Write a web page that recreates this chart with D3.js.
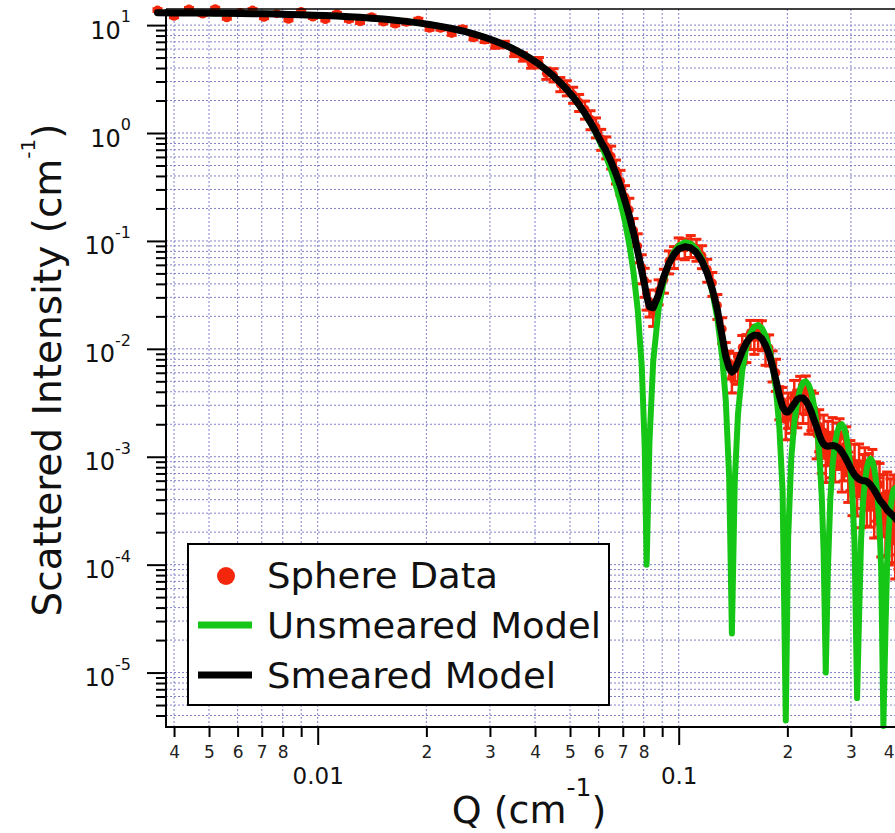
<!DOCTYPE html>
<html><head><meta charset="utf-8">
<script src="https://cdn.jsdelivr.net/npm/d3@7"></script>
<style>body{margin:0;background:#fff}svg{display:block;font-family:"DejaVu Sans",sans-serif}</style>
</head><body><svg id="chart" width="895" height="833"></svg>
<script>
// ---------------- data ----------------
const qValues = [0.0036,0.0040,0.0044,0.0048,0.0052,0.0056,0.0061,0.0066,0.0071,0.0077,0.0083,0.0090,0.0097,0.0105,0.0113,0.0122,0.0131,0.0141,0.0152,0.0164,0.0176,0.0190,0.0204,0.0219,0.0235,0.0252,0.0270,0.0290,0.0310,0.0330,0.0350,0.0370,0.0390,0.0410,0.0430,0.0450,0.0470,0.0490,0.0510,0.0530,0.0550,0.0570,0.0590,0.0610,0.0630,0.0650,0.0670,0.0690,0.0710,0.0730,0.0750,0.0770,0.0790,0.0805,0.0815,0.0830,0.0850,0.0880,0.0910,0.0940,0.0970,0.1000,0.1040,0.1080,0.1120,0.1160,0.1200,0.1240,0.1280,0.1320,0.1350,0.1380,0.1404,0.1430,0.1460,0.1500,0.1540,0.1580,0.1620,0.1660,0.1700,0.1740,0.1780,0.1820,0.1860,0.1900,0.1940,0.1980,0.2010,0.2050,0.2090,0.2130,0.2170,0.2210,0.2250,0.2290,0.2330,0.2370,0.2410,0.2450,0.2490,0.2520,0.2555,0.2590,0.2630,0.2670,0.2710,0.2750,0.2790,0.2830,0.2870,0.2910,0.2950,0.2990,0.3030,0.3070,0.3120,0.3160,0.3200,0.3240,0.3280,0.3320,0.3360,0.3400,0.3440,0.3480,0.3520,0.3560,0.3600,0.3640,0.3690,0.3740,0.3780,0.3820,0.3860,0.3900,0.3940,0.3980,0.4020,0.4060];

const unsmearedModel = [13.00,12.97,12.95,12.92,12.89,12.85,12.81,12.76,12.71,12.64,12.56,12.47,12.37,12.25,12.12,11.97,11.80,11.60,11.37,11.11,10.83,10.49,10.14,9.74,9.30,8.82,8.30,7.72,7.13,6.55,5.97,5.41,4.87,4.34,3.84,3.37,2.93,2.52,2.15,1.805,1.50,1.226,0.986,0.778,0.600,0.451,0.327,0.228,0.151,0.0923,0.0505,0.0230,0.00691,0.00127,0.00010,0.00138,0.00768,0.0237,0.0434,0.0626,0.0788,0.0903,0.0972,0.0944,0.0839,0.0684,0.0507,0.0335,0.0190,0.00842,0.00336,0.000638,0.000023,0.000588,0.00251,0.00630,0.0104,0.0139,0.0160,0.0166,0.0156,0.0133,0.0103,0.00712,0.00417,0.00189,0.000485,0.0000036,0.000177,0.000951,0.00208,0.00327,0.00426,0.00487,0.00500,0.00466,0.00395,0.00300,0.00200,0.00111,0.000440,0.000133,0.000010,0.0000900,0.000404,0.000850,0.00132,0.00171,0.00195,0.00200,0.00187,0.00158,0.00120,0.000789,0.000425,0.000158,0.0000058,0.0000324,0.000168,0.000371,0.000593,0.000787,0.000916,0.000958,0.000909,0.000782,0.000603,0.000405,0.000224,0.0000870,0.0000032,0.0000256,0.000104,0.000215,0.000332,0.000433,0.000496,0.000513,0.000481,0.000409];

const smearedModel = [13.00,12.97,12.95,12.92,12.89,12.85,12.81,12.76,12.71,12.64,12.56,12.47,12.37,12.25,12.12,11.97,11.80,11.60,11.37,11.11,10.83,10.49,10.14,9.74,9.30,8.82,8.30,7.72,7.13,6.55,5.97,5.41,4.87,4.34,3.84,3.36,2.93,2.53,2.16,1.82,1.52,1.25,1.02,0.82,0.68,0.54,0.42,0.32,0.235,0.170,0.118,0.080,0.053,0.039,0.031,0.0245,0.0240,0.0320,0.0470,0.0620,0.0750,0.0840,0.0885,0.0860,0.0780,0.0650,0.0500,0.0355,0.0230,0.0130,0.0085,0.0066,0.0061,0.0064,0.0075,0.0095,0.0114,0.0128,0.0134,0.0133,0.0124,0.0108,0.0089,0.0069,0.0051,0.0037,0.0029,0.0026,0.0026,0.0028,0.0031,0.0034,0.0035,0.0035,0.0033,0.0030,0.0026,0.0022,0.0019,0.0016,0.00140,0.00131,0.00126,0.00125,0.00126,0.00127,0.00126,0.00123,0.00118,0.00111,0.00103,0.00095,0.00087,0.00079,0.00073,0.00068,0.00064,0.00062,0.00061,0.00060,0.00060,0.00059,0.00057,0.00055,0.00052,0.00049,0.00046,0.00043,0.00040,0.00038,0.00036,0.00034,0.00032,0.00031,0.00030,0.00029,0.00028,0.00027,0.00026,0.00025];

const sphereData = [13.78,12.06,14.12,12.66,14.18,11.69,13.07,13.78,11.82,12.77,11.30,13.34,11.88,11.27,12.73,11.25,10.74,11.95,10.69,10.22,10.61,11.12,9.33,9.35,8.37,9.26,7.64,7.26,6.49,6.62,5.55,5.09,4.43,4.51,3.57,3.46,2.84,2.63,2.27,1.93,1.66,1.34,1.14,0.886,0.748,0.610,0.449,0.358,0.256,0.194,0.125,0.0896,0.0572,0.0429,0.0326,0.0274,0.0221,0.0346,0.0437,0.0651,0.0720,0.0874,0.0858,0.0912,0.0842,0.0728,0.0545,0.0408,0.0253,0.0153,0.00893,0.00739,0.00549,0.00704,0.00660,0.0103,0.0105,0.0141,0.0127,0.0141,0.0139,0.0102,0.0102,0.00725,0.00602,0.00333,0.00325,0.00221,0.00286,0.00258,0.00372,0.00299,0.00403,0.00333,0.00403,0.00270,0.00291,0.00275,0.00162,0.00192,0.00123,0.00170,0.00103,0.00148,0.00116,0.00159,0.00108,0.00141,0.00153,0.000888,0.00115,0.00128,0.000740,0.000948,0.000569,0.000870,0.000576,0.000868,0.000458,0.000690,0.000792,0.000484,0.000695,0.000484,0.000754,0.000392,0.000575,0.000409,0.000552,0.000274,0.000432,0.000289,0.000454,0.000242,0.000390,0.000261,0.000420,0.000189,0.000325,0.000238];

const dataRelError = [0.03,0.03,0.03,0.03,0.03,0.03,0.03,0.03,0.03,0.03,0.03,0.03,0.03,0.03,0.03,0.035,0.035,0.035,0.035,0.035,0.04,0.04,0.04,0.04,0.04,0.045,0.045,0.05,0.06,0.07,0.08,0.09,0.10,0.11,0.12,
0.14,0.15,0.16,0.17,0.18,0.19,0.20,0.21,0.22,0.23,0.24,0.25,0.26,0.27,0.28,0.29,0.30,0.30,0.30,0.30,
0.28,0.27,0.26,0.25,0.24,0.23,0.22,0.22,0.23,0.23,0.24,0.24,0.25,0.26,0.27,0.28,0.29,0.29,0.29,0.29,
0.29,0.29,0.30,0.30,0.30,0.31,0.31,0.32,0.32,0.33,0.34,0.35,0.35,0.36,0.36,0.37,0.38,0.38,0.39,0.39,0.40,0.40,0.41,0.41,0.42,
0.43,0.43,0.44,0.44,0.45,0.45,0.46,0.46,0.47,0.47,0.48,0.48,0.49,0.49,0.50,0.50,0.51,0.51,0.52,0.52,0.53,0.53,0.54,0.54,0.55,0.55,0.56,0.56,0.57,0.57,0.58,0.58,0.59,0.59,0.60,0.60,0.61,0.61,0.62,0.62];

const xMinorTicks = [0.004,0.005,0.006,0.007,0.008,0.009,0.02,0.03,0.04,0.05,0.06,0.07,0.08,0.09,0.2,0.3,0.4];
const xMinorLabels = ["4","5","6","7","8","","2","3","4","5","6","7","8","","2","3","4"];
const xMajorTicks = [0.01,0.1];
const xMajorLabels = ["0.01","0.1"];
const yMajorTicks = [10,1,0.1,0.01,0.001,0.0001,0.00001];
const yMajorExponents = ["1","0","-1","-2","-3","-4","-5"];
const legendLabels = ["Sphere Data","Unsmeared Model","Smeared Model"];

// ---------------- drawing ----------------
(function () {
const W = 895, H = 833;
const pLeft = 166, pBottom = 727, pTop = 9;
const x = d3.scaleLog().domain([0.0038, 0.45]).range([166, 914.5]);
const y = d3.scaleLog().domain([3.13e-6, 14.1]).range([727, 9]);
const svg = d3.select("#chart");
const RED = "#f4260c", GREEN = "#16c616", GRID = "#8080cc";

svg.append("rect").attr("width", W).attr("height", H).attr("fill", "#fff");

// grid
const gGrid = svg.append("g").attr("stroke", GRID).attr("stroke-width", 1).attr("stroke-dasharray", "2,2");
gGrid.selectAll("line.vx").data(x.ticks().filter(v => x(v) > pLeft + 1 && x(v) < W))
  .join("line").attr("x1", d => x(d)).attr("x2", d => x(d)).attr("y1", pTop).attr("y2", pBottom);
gGrid.selectAll("line.hy").data(y.ticks().filter(v => y(v) > pTop + 1 && y(v) < pBottom - 1))
  .join("line").attr("y1", d => y(d)).attr("y2", d => y(d)).attr("x1", pLeft).attr("x2", W);

// data with error bars
const pts = qValues.map((q, i) => ({q, v: sphereData[i], e: dataRelError[i]}));
const gData = svg.append("g");
gData.selectAll("line.eb").data(pts).join("line")
  .attr("x1", d => x(d.q)).attr("x2", d => x(d.q))
  .attr("y1", d => y(d.v * (1 - d.e))).attr("y2", d => y(d.v * (1 + d.e)))
  .attr("stroke", RED).attr("stroke-width", 2.5);
gData.selectAll("line.capU").data(pts).join("line")
  .attr("x1", d => x(d.q) - 5).attr("x2", d => x(d.q) + 5)
  .attr("y1", d => y(d.v * (1 + d.e))).attr("y2", d => y(d.v * (1 + d.e)))
  .attr("stroke", RED).attr("stroke-width", 3);
gData.selectAll("line.capL").data(pts).join("line")
  .attr("x1", d => x(d.q) - 5).attr("x2", d => x(d.q) + 5)
  .attr("y1", d => y(d.v * (1 - d.e))).attr("y2", d => y(d.v * (1 - d.e)))
  .attr("stroke", RED).attr("stroke-width", 3);
gData.selectAll("circle").data(pts).join("circle")
  .attr("cx", d => x(d.q)).attr("cy", d => y(d.v)).attr("r", 4.5).attr("fill", RED);

// model lines
const line = d3.line().x(d => x(d[0])).y(d => y(d[1]));
svg.append("path").datum(qValues.map((q, i) => [q, unsmearedModel[i]]))
  .attr("d", line).attr("fill", "none").attr("stroke", GREEN).attr("stroke-width", 6)
  .attr("stroke-linejoin", "round").attr("stroke-linecap", "round");
svg.append("path").datum(qValues.map((q, i) => [q, smearedModel[i]]))
  .attr("d", line).attr("fill", "none").attr("stroke", "#000").attr("stroke-width", 7)
  .attr("stroke-linejoin", "round").attr("stroke-linecap", "round");

// axes
function styleAxis(g) {
  g.select(".domain").remove();
  g.selectAll(".tick line").attr("stroke", "#000").attr("stroke-width", 2);
  g.selectAll(".tick text").attr("fill", "#222").attr("font-family", "DejaVu Sans");
}
svg.append("g").attr("transform", `translate(0,${pBottom})`)
  .call(d3.axisBottom(x).tickValues(xMinorTicks).tickSize(10).tickPadding(9)
    .tickFormat((d, i) => xMinorLabels[i]))
  .call(styleAxis)
  .call(g => g.selectAll(".tick text").attr("font-size", 17)
    .filter(d => x(d) > W - 6).attr("text-anchor", "end").attr("x", d => W - 1 - x(d)));
svg.append("g").attr("transform", `translate(0,${pBottom})`)
  .call(d3.axisBottom(x).tickValues(xMajorTicks).tickSize(18).tickPadding(23)
    .tickFormat((d, i) => xMajorLabels[i]))
  .call(styleAxis).call(g => g.selectAll(".tick text").attr("font-size", 23).attr("fill", "#111"));

const yMinor = y.ticks().filter(v => yMajorTicks.indexOf(v) < 0 && y(v) >= pTop && y(v) <= pBottom);
svg.append("g").attr("transform", `translate(${pLeft},0)`)
  .call(d3.axisLeft(y).tickValues(yMinor).tickSize(10).tickFormat(""))
  .call(styleAxis);
svg.append("g").attr("transform", `translate(${pLeft},0)`)
  .call(d3.axisLeft(y).tickValues(yMajorTicks).tickSize(19).tickFormat(""))
  .call(styleAxis);

const yl = svg.append("g").attr("font-family", "DejaVu Sans").attr("fill", "#111");
yMajorTicks.forEach((v, i) => {
  const t = yl.append("text").attr("x", 131).attr("y", y(v) + 13.5)
    .attr("text-anchor", "end").attr("font-size", 24);
  t.append("tspan").text("10");
  t.append("tspan").attr("dy", -16.5).attr("font-size", 16).text(yMajorExponents[i]);
});

// frame
svg.append("line").attr("x1", pLeft).attr("x2", pLeft).attr("y1", pTop).attr("y2", pBottom + 1)
  .attr("stroke", "#000").attr("stroke-width", 2);
svg.append("line").attr("x1", pLeft - 1).attr("x2", W).attr("y1", pBottom).attr("y2", pBottom)
  .attr("stroke", "#000").attr("stroke-width", 2);
svg.append("line").attr("x1", pLeft).attr("x2", W).attr("y1", pTop).attr("y2", pTop)
  .attr("stroke", "#000").attr("stroke-width", 1.5);

// axis titles
const yt = svg.append("text").attr("transform", "translate(61,370) rotate(-90)")
  .attr("text-anchor", "middle").attr("font-size", 39).attr("fill", "#111");
yt.append("tspan").text("Scattered Intensity (cm");
yt.append("tspan").attr("dy", -26).attr("font-size", 20).text("-1");
yt.append("tspan").attr("dy", 26).text(")");

const xt = svg.append("text").attr("x", 529).attr("y", 823)
  .attr("text-anchor", "middle").attr("font-size", 38).attr("fill", "#111");
xt.append("tspan").text("Q (cm");
xt.append("tspan").attr("dy", -27).attr("font-size", 25).text("-1");
xt.append("tspan").attr("dy", 27).text(")");

// legend
const lg = svg.append("g");
lg.append("rect").attr("x", 188).attr("y", 544).attr("width", 421).attr("height", 161)
  .attr("fill", "#fff").attr("stroke", "#000").attr("stroke-width", 2);
lg.append("circle").attr("cx", 226).attr("cy", 576).attr("r", 9).attr("fill", RED);
lg.append("line").attr("x1", 198).attr("x2", 252).attr("y1", 625).attr("y2", 625)
  .attr("stroke", GREEN).attr("stroke-width", 7);
lg.append("line").attr("x1", 198).attr("x2", 252).attr("y1", 675).attr("y2", 675)
  .attr("stroke", "#000").attr("stroke-width", 7);
const legendWidths = [231, 334, 289];
legendLabels.forEach((s, i) => {
  lg.append("text").attr("x", 267).attr("y", 588 + 50 * i).attr("font-size", 35)
    .attr("fill", "#111").attr("textLength", legendWidths[i]).attr("lengthAdjust", "spacingAndGlyphs")
    .text(s);
});
})();
</script></body></html>
